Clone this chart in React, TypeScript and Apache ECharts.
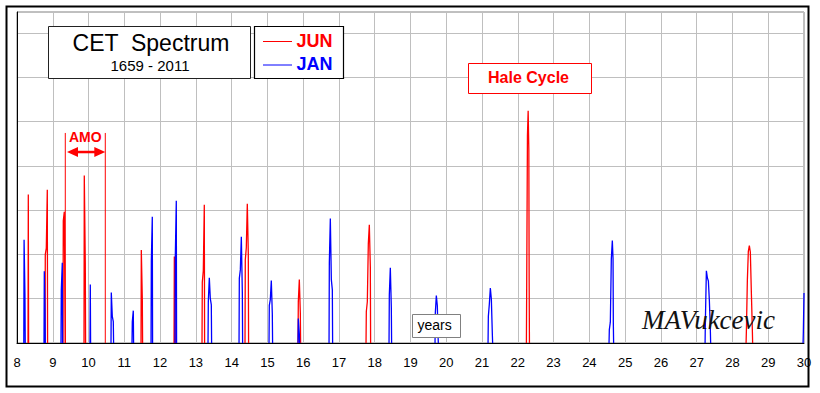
import React, { useEffect, useRef } from "react";
import * as echarts from "echarts";

// Axis ranges (x in years, y in arbitrary spectral units = grid divisions)
const xMin = 8;
const xMax = 30;
const yMax = 7.47;

// JUN spectrum (red) – each peak is a short list of [period, amplitude] samples
const junPeaks: [number, number][][] = [
  [[8.308, 0], [8.316, 3.35], [8.324, 0]],
  [[8.783, 0], [8.791, 2.0], [8.819, 2.14], [8.847, 3.46], [8.855, 0]],
  [[9.286, 0], [9.294, 2.76], [9.322, 2.96], [9.35, 0]],
  [[9.873, 0], [9.881, 3.78], [9.909, 1.8], [9.917, 0]],
  [[11.467, 0], [11.475, 2.1], [11.503, 1.0], [11.511, 0]],
  [[12.39, 0], [12.398, 1.95], [12.417, 1.95], [12.425, 0]],
  [[13.172, 0], [13.18, 1.37], [13.208, 1.63], [13.236, 3.12], [13.244, 0]],
  [[14.374, 0], [14.382, 1.88], [14.41, 2.15], [14.438, 3.14], [14.466, 2.0], [14.474, 0]],
  [[15.856, 0], [15.864, 0.93], [15.892, 1.43], [15.92, 0.68], [15.928, 0]],
  [[17.757, 0], [17.765, 0.71], [17.793, 0.93], [17.821, 2.24], [17.849, 2.67], [17.877, 1.72], [17.885, 0]],
  [[22.24, 0], [22.249, 1.41], [22.269, 4.68], [22.289, 5.24], [22.308, 4.36], [22.317, 1.4], [22.325, 0]],
  [[28.381, 0], [28.389, 0.26], [28.417, 1.43], [28.444, 2.07], [28.472, 2.2], [28.5, 2.05], [28.528, 1.15], [28.556, 0.3], [28.564, 0]],
];

// JAN spectrum (blue)
const janPeaks: [number, number][][] = [
  [[8.19, 0], [8.198, 2.33], [8.222, 1.11], [8.23, 0]],
  [[8.755, 0], [8.763, 1.62], [8.783, 0.75], [8.791, 0]],
  [[9.23, 0], [9.238, 1.19], [9.266, 1.81], [9.274, 0]],
  [[10.041, 0], [10.049, 1.32], [10.057, 0]],
  [[10.628, 0], [10.636, 1.14], [10.664, 0.6], [10.692, 0.48], [10.7, 0]],
  [[11.215, 0], [11.223, 0.48], [11.251, 0.73], [11.259, 0]],
  [[11.747, 0], [11.755, 1.84], [11.782, 2.85], [11.79, 0]],
  [[12.417, 0], [12.425, 1.94], [12.453, 3.21], [12.461, 0]],
  [[13.34, 0], [13.348, 0.93], [13.376, 1.47], [13.404, 1.0], [13.432, 0.86], [13.44, 0]],
  [[14.207, 0], [14.215, 1.46], [14.243, 1.65], [14.271, 2.4], [14.299, 1.14], [14.307, 0]],
  [[15.045, 0], [15.053, 0.85], [15.081, 0.98], [15.109, 1.41], [15.137, 0.66], [15.145, 0]],
  [[15.856, 0], [15.864, 0.55], [15.892, 0.21], [15.9, 0]],
  [[16.723, 0], [16.731, 1.81], [16.759, 2.81], [16.787, 1.43], [16.815, 1.2], [16.823, 0]],
  [[18.4, 0], [18.408, 1.09], [18.436, 1.7], [18.464, 0.8], [18.472, 0]],
  [[19.686, 0], [19.694, 0.68], [19.722, 1.07], [19.75, 0.84], [19.77, 0.15], [19.778, 0]],
  [[21.168, 0], [21.176, 0.6], [21.204, 0.88], [21.232, 1.24], [21.26, 0.99], [21.288, 0.19], [21.296, 0]],
  [[24.55, 0], [24.558, 0.3], [24.586, 0.47], [24.614, 1.9], [24.642, 2.31], [24.662, 1.9], [24.67, 0.45], [24.678, 0]],
  [[27.235, 0], [27.243, 0.5], [27.271, 1.63], [27.299, 1.47], [27.327, 1.4], [27.355, 0.95], [27.382, 0.3], [27.39, 0]],
  [[29.974, 0], [29.982, 0.26], [30.0, 1.13]],
];

// AMO bracket (period range) and its heights
const amoRange = [9.35, 10.468];
const amoTop = 4.74;
const amoArrow = 4.31;

const SANS = '"Liberation Sans", Arial, sans-serif';

export default function App() {
  const ref = useRef<HTMLDivElement>(null);

  useEffect(() => {
    const chart = echarts.init(ref.current!, null, { renderer: "svg" });
    const series: any[] = [];
    junPeaks.forEach((p) =>
      series.push({
        type: "line",
        data: p,
        symbol: "none",
        silent: true,
        z: 2,
        lineStyle: { color: "#ff0000", width: 1.3 },
        itemStyle: { color: "#ff0000" },
      })
    );
    janPeaks.forEach((p) =>
      series.push({
        type: "line",
        data: p,
        symbol: "none",
        silent: true,
        z: 3,
        lineStyle: { color: "#0000ff", width: 1.3 },
        itemStyle: { color: "#0000ff" },
      })
    );

    chart.setOption({
      animation: false,
      backgroundColor: "#ffffff",
      grid: {
        left: 17,
        top: 12,
        width: 787,
        height: 331,
        show: true,
        borderColor: "#808080",
        borderWidth: 1,
        backgroundColor: "#ffffff",
      },
      xAxis: {
        type: "value",
        min: xMin,
        max: xMax,
        interval: 1,
        axisLine: { show: true, lineStyle: { color: "#000", width: 1 } },
        axisTick: { show: false },
        axisLabel: { color: "#000", fontSize: 13, fontFamily: SANS, margin: 13 },
        splitLine: { show: true, lineStyle: { color: "#bfbfbf", width: 1 } },
      },
      yAxis: {
        type: "value",
        min: 0,
        max: yMax,
        interval: 1,
        axisLine: { show: true, lineStyle: { color: "#000", width: 1 } },
        axisTick: { show: false },
        axisLabel: { show: false },
        splitLine: { show: true, lineStyle: { color: "#bfbfbf", width: 1 } },
      },
      series,
    });

    const px = (x: number, y: number) =>
      chart.convertToPixel({ gridIndex: 0 }, [x, y]) as number[];
    const [l0x, l0y] = px(amoRange[0], 0);
    const [, lTop] = px(amoRange[0], amoTop);
    const [r0x] = px(amoRange[1], 0);
    const [, arrY] = px(amoRange[0], amoArrow);
    const tipL = l0x + 1.7;
    const tipR = r0x;
    const red = "#ff0000";

    const txt = (
      x: number,
      y: number,
      text: string,
      font: string,
      fill: string,
      align = "center"
    ) => ({
      type: "text",
      x,
      y,
      z: 110,
      silent: true,
      style: {
        text,
        font,
        fill,
        align,
        verticalAlign: "middle",
        textAlign: align,
        textVerticalAlign: "middle",
      },
    });

    chart.setOption({
      graphic: [
        // outer frame
        {
          type: "rect",
          z: 100,
          silent: true,
          shape: { x: 6.5, y: 6.5, width: 802, height: 380 },
          style: { fill: "none", stroke: "#000", lineWidth: 2 },
        },
        // title box
        {
          type: "rect",
          z: 100,
          silent: true,
          shape: { x: 48.5, y: 26.5, width: 202, height: 52 },
          style: { fill: "#fff", stroke: "#222", lineWidth: 1 },
        },
        txt(151, 42.5, "CET  Spectrum", `23px ${SANS}`, "#000"),
        txt(150, 65.5, "1659 - 2011", `15px ${SANS}`, "#000"),
        // legend box
        {
          type: "rect",
          z: 100,
          silent: true,
          shape: { x: 254.5, y: 26.5, width: 89, height: 52 },
          style: { fill: "#fff", stroke: "#000", lineWidth: 1.2 },
        },
        {
          type: "line",
          z: 110,
          silent: true,
          shape: { x1: 263, y1: 41.5, x2: 292, y2: 41.5 },
          style: { stroke: red, lineWidth: 1 },
        },
        {
          type: "line",
          z: 110,
          silent: true,
          shape: { x1: 263, y1: 65, x2: 292, y2: 65 },
          style: { stroke: "#0000ff", lineWidth: 1 },
        },
        txt(296.5, 40.5, "JUN", `bold 18px ${SANS}`, red, "left"),
        txt(296.5, 64, "JAN", `bold 18px ${SANS}`, "#0000ff", "left"),
        // Hale cycle box
        {
          type: "rect",
          z: 100,
          silent: true,
          shape: { x: 468.5, y: 63.5, width: 123, height: 30 },
          style: { fill: "#fff", stroke: red, lineWidth: 1 },
        },
        txt(528.5, 77.5, "Hale Cycle", `bold 16px ${SANS}`, red),
        // AMO bracket
        {
          type: "line",
          z: 105,
          silent: true,
          shape: { x1: l0x, y1: lTop, x2: l0x, y2: l0y },
          style: { stroke: red, lineWidth: 1 },
        },
        {
          type: "line",
          z: 105,
          silent: true,
          shape: { x1: r0x, y1: lTop, x2: r0x, y2: l0y },
          style: { stroke: red, lineWidth: 1 },
        },
        {
          type: "line",
          z: 105,
          silent: true,
          shape: { x1: tipL + 8, y1: arrY, x2: tipR - 8, y2: arrY },
          style: { stroke: red, lineWidth: 2.5 },
        },
        {
          type: "polygon",
          z: 105,
          silent: true,
          shape: { points: [[tipL, arrY], [tipL + 11, arrY - 5], [tipL + 11, arrY + 5]] },
          style: { fill: red },
        },
        {
          type: "polygon",
          z: 105,
          silent: true,
          shape: { points: [[tipR, arrY], [tipR - 11, arrY - 5], [tipR - 11, arrY + 5]] },
          style: { fill: red },
        },
        txt((l0x + r0x) / 2, arrY - 15, "AMO", `bold 14px ${SANS}`, red),
        // years box
        {
          type: "rect",
          z: 100,
          silent: true,
          shape: { x: 412.5, y: 314.5, width: 48, height: 23 },
          style: { fill: "#fff", stroke: "#808080", lineWidth: 1 },
        },
        txt(417.5, 324.5, "years", `14px ${SANS}`, "#000", "left"),
        // signature
        txt(642, 319.5, "MAVukcevic", `italic 27px "Liberation Serif", serif`, "#111", "left"),
      ],
    });

    return () => chart.dispose();
  }, []);

  return (
    <div
      ref={ref}
      style={{
        position: "fixed",
        left: 0,
        top: 0,
        width: 820,
        height: 393,
        background: "#fff",
      }}
    />
  );
}
